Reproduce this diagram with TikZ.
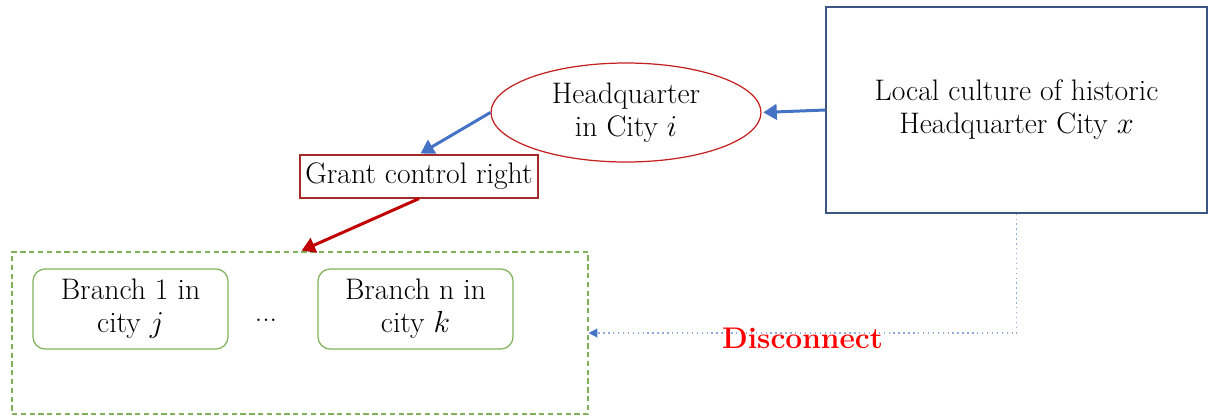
\documentclass[tikz,border=0pt]{standalone}
\usepackage{amsmath}
\usepackage{tikz}
\usetikzlibrary{arrows.meta,shapes.geometric}
\definecolor{arrowblue}{HTML}{4472C4}
\definecolor{dotblue}{HTML}{8FAADC}
\definecolor{boxnavy}{HTML}{3B5584}
\definecolor{ellred}{HTML}{C42020}
\definecolor{grantred}{HTML}{A52A2A}
\definecolor{arrowred}{HTML}{C00000}
\definecolor{branchgreen}{HTML}{7FB25A}

\begin{document}
\begin{tikzpicture}[x=0.02cm,y=-0.02cm,>=Triangle,
    every node/.style={font=\fontsize{16.9}{18.8}\selectfont,align=center,inner sep=0pt},
    branchbox/.style={draw=branchgreen,line width=0.7pt,rounded corners=0.24cm,minimum width=3.9cm,minimum height=1.6cm},
    thickarrow/.style={->,line width=1.7pt,shorten >=1pt}]
  \useasboundingbox (0,0) rectangle (1208,416);
  % culture and headquarter
  \node[draw=boxnavy,line width=0.7pt,minimum width=7.62cm,minimum height=4.12cm] (culture) at (1016.5,110) {Local culture of historic\\Headquarter City $x$};
  \node[ellipse,draw=ellred,line width=0.7pt,minimum width=5.4cm,minimum height=1.98cm] (hq) at (626,112.5) {Headquarter\\in City $i$};
  \node[draw=grantred,line width=0.7pt,minimum width=4.76cm,minimum height=0.86cm] (grant) at (419,176.5) {Grant control right};
  % branches
  \node[draw=branchgreen,line width=0.7pt,dash pattern=on 3pt off 2pt,minimum width=11.52cm,minimum height=3.24cm] (group) at (300,333) {};
  \node[branchbox] (branchA) at (130.5,309) {Branch 1 in\\city $j$};
  \node[branchbox] (branchN) at (415.5,309) {Branch n in\\city $k$};
  \node (dots) at (266,320) {...};
  % connectors
  \draw[thickarrow,arrowblue] (culture.west) -- (hq.east);
  \draw[thickarrow,arrowblue] (hq.west) -- (grant.north);
  \draw[thickarrow,arrowred] (grant.south) -- (group.north);
  \draw[dotblue,line width=0.8pt,dotted,-{Triangle[length=5pt,width=5pt,color=arrowblue]}] (culture.south) |- (group.east)
    node[pos=0.75,yshift=-3pt,text=red,font=\fontsize{17}{18.8}\selectfont\bfseries] {Disconnect};
\end{tikzpicture}
\end{document}
